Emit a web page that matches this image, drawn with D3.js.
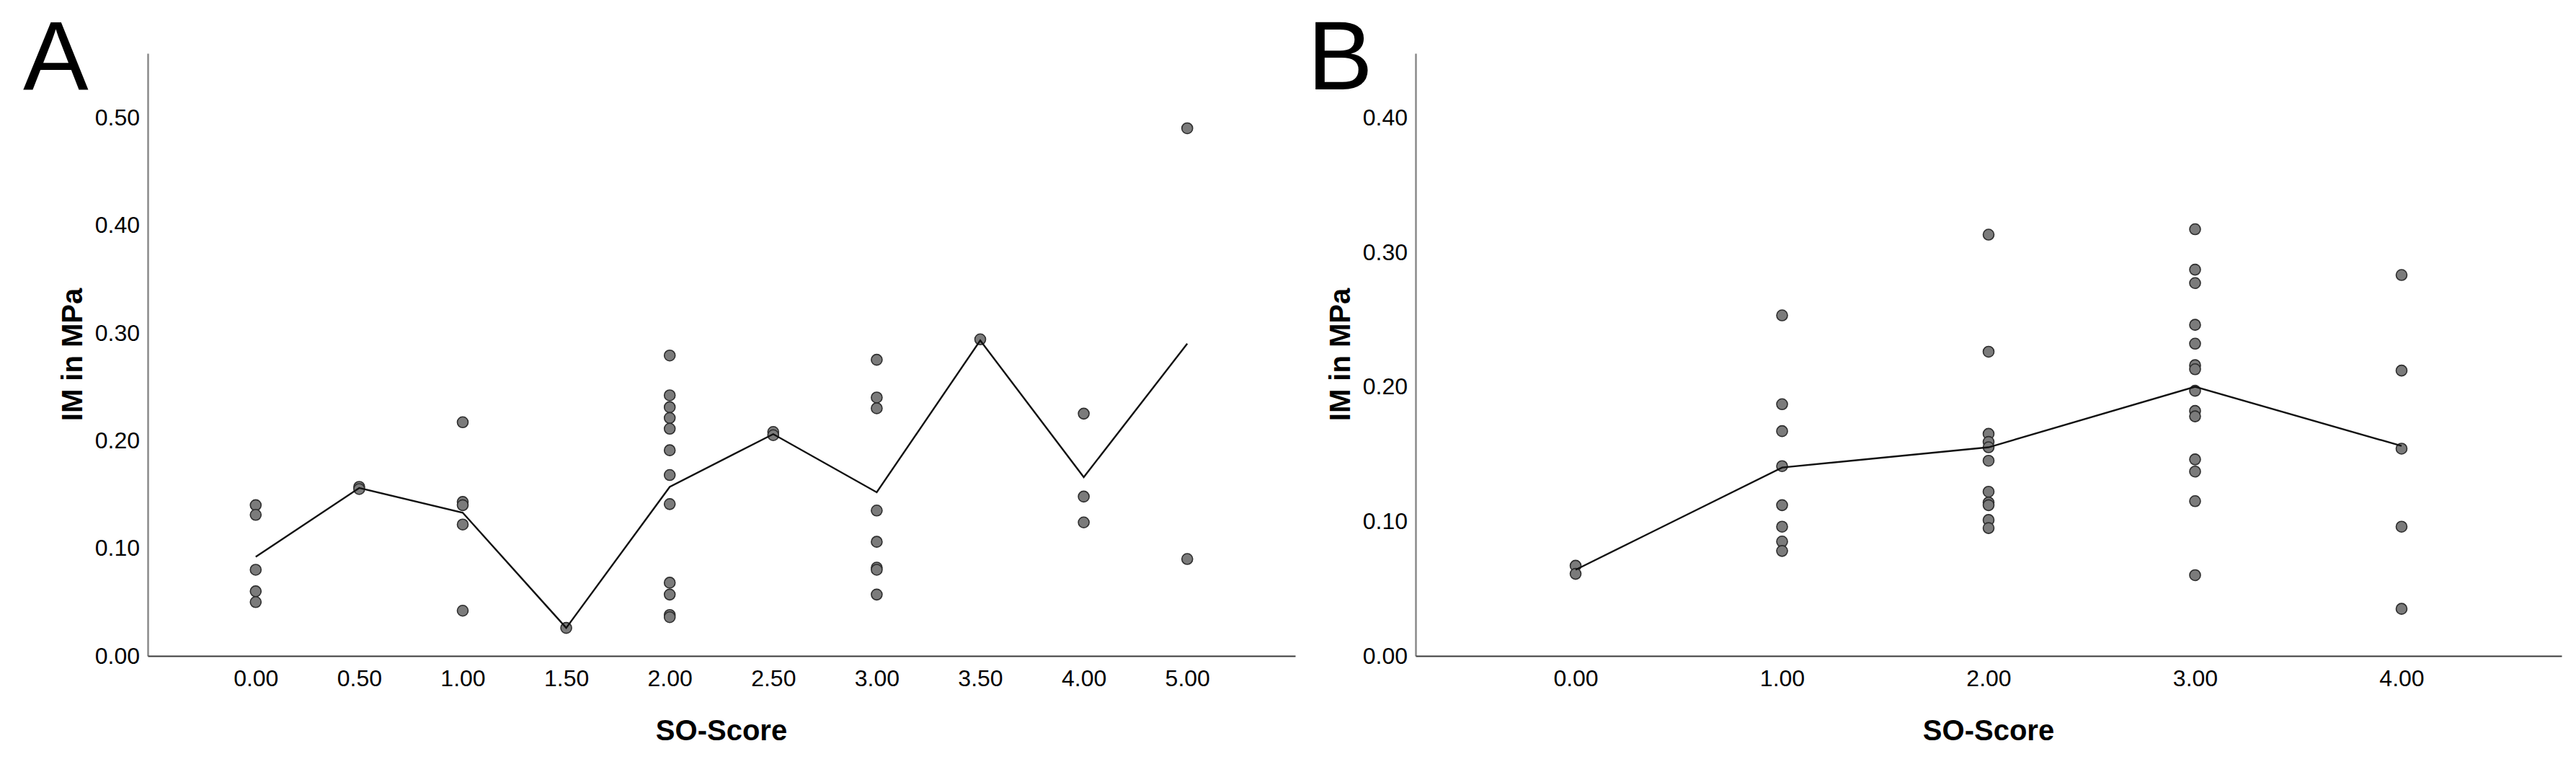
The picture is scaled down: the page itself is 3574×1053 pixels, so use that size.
<!DOCTYPE html>
<html>
<head>
<meta charset="utf-8">
<script src="https://cdn.jsdelivr.net/npm/d3@7"></script>
<style>
  body { margin: 0; background: #fff; }
  text { font-family: "Liberation Sans", Arial, sans-serif; }
</style>
</head>
<body>
<div id="chart"></div>
<script>
// Panel A data: SO-Score categories, IM values per category, category means
var scoresA = ["0.00", "0.50", "1.00", "1.50", "2.00", "2.50", "3.00", "3.50", "4.00", "5.00"];
var valuesA = [
  [0.140, 0.131, 0.080, 0.060, 0.050],
  [0.157, 0.155],
  [0.217, 0.143, 0.140, 0.122, 0.042],
  [0.026],
  [0.279, 0.242, 0.231, 0.221, 0.211, 0.191, 0.168, 0.141, 0.068, 0.057, 0.038, 0.036],
  [0.208, 0.205],
  [0.275, 0.240, 0.230, 0.135, 0.106, 0.082, 0.080, 0.057],
  [0.294],
  [0.225, 0.148, 0.124],
  [0.490, 0.090]
];
var meansA = [0.092, 0.156, 0.133, 0.026, 0.157, 0.206, 0.152, 0.293, 0.166, 0.290];
var ticksA = [0, 0.1, 0.2, 0.3, 0.4, 0.5];

// Panel B data
var scoresB = ["0.00", "1.00", "2.00", "3.00", "4.00"];
var valuesB = [
  [0.067, 0.061],
  [0.253, 0.187, 0.167, 0.141, 0.112, 0.096, 0.085, 0.078],
  [0.313, 0.226, 0.165, 0.159, 0.155, 0.145, 0.122, 0.114, 0.112, 0.101, 0.095],
  [0.317, 0.287, 0.277, 0.246, 0.232, 0.216, 0.213, 0.197, 0.182, 0.178, 0.146, 0.137, 0.115, 0.060],
  [0.283, 0.212, 0.154, 0.096, 0.035]
];
var meansB = [0.064, 0.140, 0.155, 0.200, 0.156];
var ticksB = [0, 0.1, 0.2, 0.3, 0.4];

var svg = d3.select("#chart")
  .append("svg")
    .attr("width", 3574)
    .attr("height", 1053);

function drawPanel(o) {
  var x = d3.scalePoint()
    .domain(o.scores)
    .range([o.left, o.right])
    .padding(o.pad);

  var y = d3.scaleLinear()
    .domain([0, o.yMax])
    .range([910, 74]);

  var g = svg.append("g");

  // y axis (grey line, no ticks)
  var ya = g.append("g")
    .attr("transform", "translate(" + o.left + ",0)")
    .call(d3.axisLeft(y).tickValues(o.ticks).tickSize(0).tickPadding(11).tickFormat(d3.format(".2f")));
  ya.select(".domain").attr("stroke", "#8a8a8a").attr("stroke-width", 2.5);
  ya.selectAll("text").attr("font-size", 32).attr("font-family", "Liberation Sans, Arial, sans-serif").attr("fill", "#000");

  // x axis
  var xa = g.append("g")
    .attr("transform", "translate(0," + y(0) + ")")
    .call(d3.axisBottom(x).tickSize(0).tickPadding(19));
  xa.select(".domain").attr("stroke", "#3a3a3a").attr("stroke-width", 2);
  xa.selectAll("text").attr("font-size", 32).attr("font-family", "Liberation Sans, Arial, sans-serif").attr("fill", "#000");

  // flatten points
  var pts = [];
  o.values.forEach(function (vals, i) {
    vals.forEach(function (v) { pts.push({ s: o.scores[i], v: v }); });
  });

  g.append("g")
    .selectAll("circle")
    .data(pts)
    .enter()
    .append("circle")
      .attr("cx", function (d) { return x(d.s); })
      .attr("cy", function (d) { return y(d.v); })
      .attr("r", 7.5)
      .attr("fill", "#7b7b7b")
      .attr("stroke", "#2e2e2e")
      .attr("stroke-width", 1.6);

  // mean line
  var line = d3.line()
    .x(function (d, i) { return x(o.scores[i]); })
    .y(function (d) { return y(d); });
  g.append("path")
    .datum(o.means)
    .attr("d", line)
    .attr("fill", "none")
    .attr("stroke", "#111")
    .attr("stroke-width", 2.4);

  // axis titles
  g.append("text")
    .attr("transform", "translate(" + (o.left - 91) + ",492) rotate(-90)")
    .attr("text-anchor", "middle")
    .attr("font-size", 40)
    .attr("font-weight", "bold")
    .text("IM in MPa");

  g.append("text")
    .attr("x", (o.left + o.right) / 2)
    .attr("y", 1027)
    .attr("text-anchor", "middle")
    .attr("font-size", 40)
    .attr("font-weight", "bold")
    .text("SO-Score");

  // panel letter
  g.append("text")
    .attr("x", o.letterX)
    .attr("y", 124)
    .attr("font-size", 136)
    .text(o.letter);
}

drawPanel({ scores: scoresA, values: valuesA, means: meansA, ticks: ticksA,
  yMax: 0.5596, left: 205, right: 1797, pad: 1.043, letter: "A", letterX: 32 });
drawPanel({ scores: scoresB, values: valuesB, means: meansB, ticks: ticksB,
  yMax: 0.4477, left: 1964, right: 3554, pad: 0.775, letter: "B", letterX: 1814 });
</script>
</body>
</html>
